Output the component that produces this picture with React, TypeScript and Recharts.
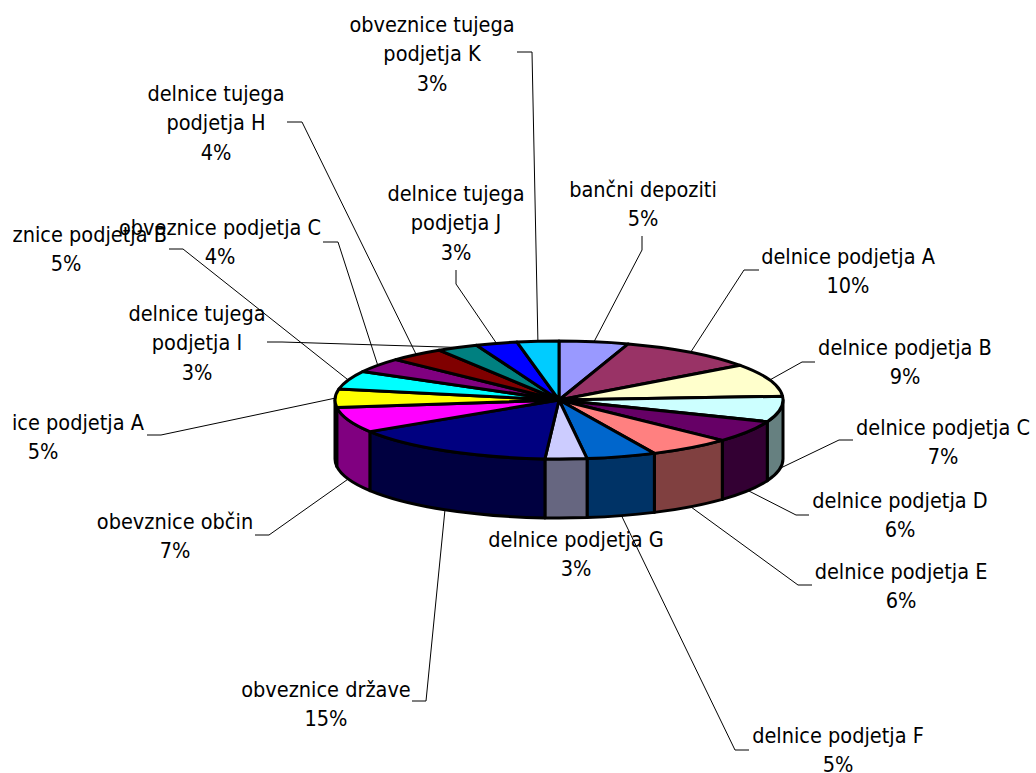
import React from "react";
import { PieChart, Pie } from "recharts";

const categories = [
  "bančni depoziti",
  "delnice podjetja A",
  "delnice podjetja B",
  "delnice podjetja C",
  "delnice podjetja D",
  "delnice podjetja E",
  "delnice podjetja F",
  "delnice podjetja G",
  "obveznice države",
  "obevznice občin",
  "obveznice podjetja A",
  "obveznice podjetja B",
  "obveznice podjetja C",
  "delnice tujega\npodjetja H",
  "delnice tujega\npodjetja I",
  "delnice tujega\npodjetja J",
  "obveznice tujega\npodjetja K",
];

const shares = [5, 10, 9, 7, 6, 6, 5, 3, 15, 7, 5, 5, 4, 4, 3, 3, 3];

const colors = [
  "#9999FF", "#993366", "#FFFFCC", "#CCFFFF", "#660066", "#FF8080",
  "#0066CC", "#CCCCFF", "#000080", "#FF00FF", "#FFFF00", "#00FFFF",
  "#800080", "#800000", "#008080", "#0000FF", "#00CCFF",
];

const sideColors = [
  "#4D4D80", "#4D1A33", "#808066", "#668080", "#330033", "#804040",
  "#003366", "#666680", "#000040", "#800080", "#808000", "#008080",
  "#400040", "#400000", "#004040", "#000080", "#006680",
];

const slices = categories.map((name, i) => ({
  name,
  value: shares[i],
  fill: colors[i],
  side: sideColors[i],
}));

// [text centre x, first line centre y, elbow x, elbow y, stub x, stub y]
const labelBoxes = [
  [643, 189, 642, 250, 642, 236],
  [848, 256, 744, 270, 759, 270],
  [905, 347, 802, 362, 815, 362],
  [943, 427, 839, 440, 853, 440],
  [900, 500, 796, 515, 809, 515],
  [901, 571, 798, 585, 812, 585],
  [838, 735, 735, 750, 749, 750],
  [576, 539],
  [326, 689, 426, 701, 412, 701],
  [175, 521, 269, 535, 255, 535],
  [43, 422, 161, 435, 147, 435],
  [66, 234, 183, 249, 169, 249],
  [220, 227, 338, 242, 323, 242],
  [216, 93, 302, 122, 287, 122],
  [197, 313, 282, 342, 267, 342],
  [456, 193, 456, 284, 456, 270],
  [432, 24, 532, 52, 517, 52],
];

const CX = 559;
const CY = 400;
const RX = 224;
const RY = 59;
const DEPTH = 59;
const LINE_HEIGHT = 29.5;
const FONT = "'DejaVu Sans Condensed', 'DejaVu Sans', sans-serif";

// point on the flattened rim for a polar angle in degrees
function rim(cx: number, cy: number, rx: number, angle: number) {
  const rad = (angle * Math.PI) / 180;
  return { x: cx + rx * Math.cos(rad), y: cy - (rx * RY * Math.sin(rad)) / RX };
}

function Slice3D(props: any) {
  const { cx, cy, outerRadius: rx, startAngle, endAngle, fill, side } = props;
  const a = rim(cx, cy, rx, startAngle);
  const b = rim(cx, cy, rx, endAngle);
  const ry = (rx * RY) / RX;
  const large = startAngle - endAngle > 180 ? 1 : 0;
  const top = `M${cx},${cy}L${a.x},${a.y}A${rx},${ry} 0 ${large} 1 ${b.x},${b.y}Z`;

  // wall only exists on the front half of the disc (polar angles -180..0)
  const wallFrom = Math.min(startAngle, 0);
  const wallTo = Math.max(endAngle, -180);
  let wall = null;
  if (wallFrom > wallTo) {
    const p = rim(cx, cy, rx, wallFrom);
    const q = rim(cx, cy, rx, wallTo);
    wall = (
      <path
        d={`M${p.x},${p.y}A${rx},${ry} 0 0 1 ${q.x},${q.y}L${q.x},${q.y + DEPTH}A${rx},${ry} 0 0 0 ${p.x},${p.y + DEPTH}Z`}
        fill={side}
        stroke="#000"
        strokeWidth={3}
        strokeLinejoin="round"
      />
    );
  }

  return (
    <g>
      {wall}
      <path d={top} fill={fill} stroke="#000" strokeWidth={3} strokeLinejoin="round" />
    </g>
  );
}

function SliceLabel(props: any) {
  const { cx, cy, outerRadius, midAngle, index, name, value } = props;
  const [tx, ty, ex, ey, sx, sy] = labelBoxes[index];
  const lines = [...String(name).split("\n"), `${value}%`];
  const anchor = rim(cx, cy, outerRadius, midAngle);
  const front = Math.sin((midAngle * Math.PI) / 180) < 0;
  const ay = front ? anchor.y + DEPTH : anchor.y;

  return (
    <g>
      {ex !== undefined && (
        <polyline
          points={`${anchor.x},${ay} ${ex},${ey} ${sx},${sy}`}
          fill="none"
          stroke="#000"
          strokeWidth={1}
        />
      )}
      <text textAnchor="middle" fontFamily={FONT} fontSize={21.5} fill="#000">
        {lines.map((line, i) => (
          <tspan key={i} x={tx} y={ty + 7.5 + i * LINE_HEIGHT}>
            {line}
          </tspan>
        ))}
      </text>
    </g>
  );
}

export default function App() {
  return (
    <div style={{ position: "absolute", left: 13, top: 0, width: 1023, height: 773, overflow: "hidden", background: "#fff" }}>
      <div style={{ position: "absolute", left: -13, top: 0 }}>
        <PieChart width={1036} height={773} margin={{ top: 0, right: 0, bottom: 0, left: 0 }}>
          <Pie
            data={slices}
            dataKey="value"
            nameKey="name"
            cx={CX}
            cy={CY}
            innerRadius={0}
            outerRadius={RX}
            startAngle={90}
            endAngle={-270}
            stroke="none"
            isAnimationActive={false}
            shape={Slice3D}
            label={SliceLabel}
            labelLine={false}
          />
        </PieChart>
      </div>
    </div>
  );
}
